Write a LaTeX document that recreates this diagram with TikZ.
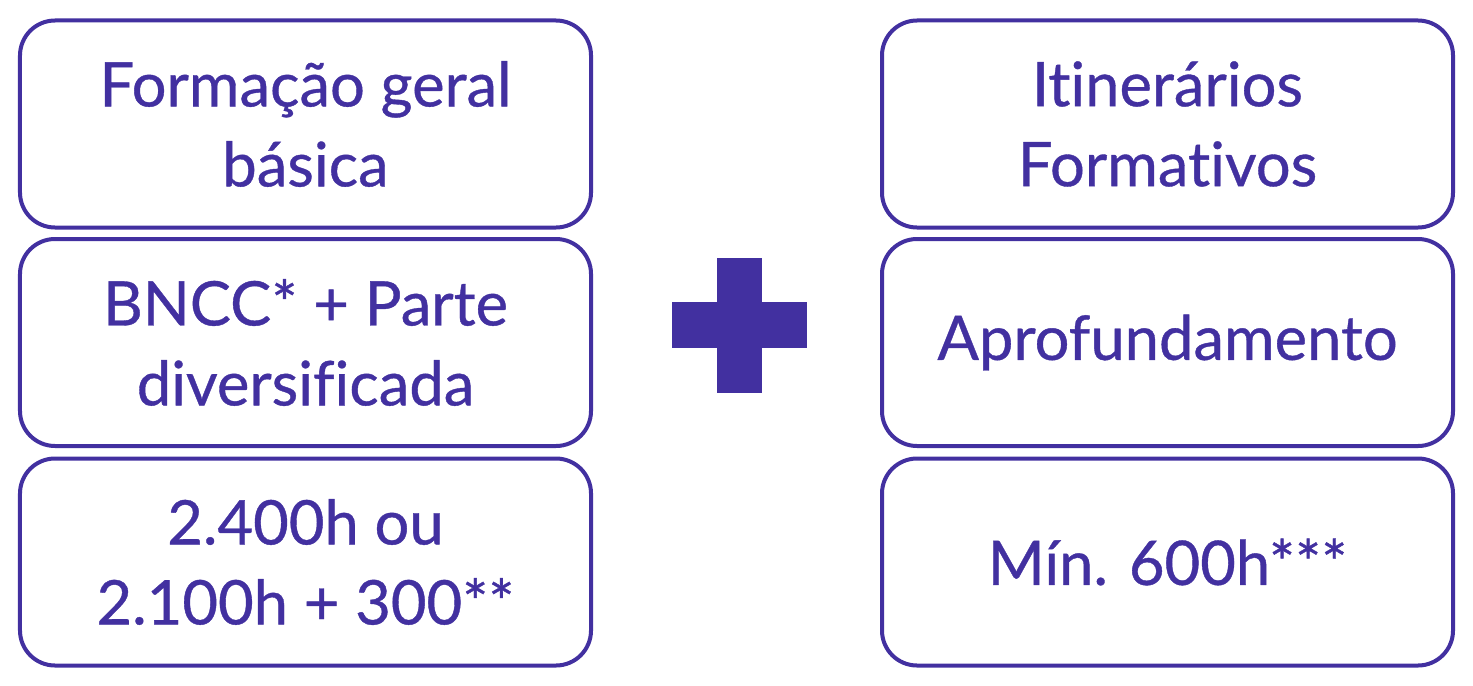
\documentclass[tikz,border=0pt]{standalone}
\usepackage{fontspec}
\setmainfont{Lato}[Ligatures=NoCommon,FakeBold=0.6]
\usepackage{tikz}
\usetikzlibrary{positioning}
\definecolor{bnccpurple}{RGB}{66,48,160}
\tikzset{
  blkbox/.style={draw=bnccpurple,rounded corners=7mm,line width=0.8mm,minimum width=114.2mm,minimum height=41.4mm,
    align=center,inner sep=0pt,text=bnccpurple,font=\fontsize{35}{45.5}\selectfont},
  plusbar/.style={fill=bnccpurple,inner sep=0pt}
}
\begin{document}
\begin{tikzpicture}[x=0.2mm,y=-0.2mm]
  \useasboundingbox (0,0) rectangle (1473,685);
  % left column
  \node[blkbox] (fgb) at (305.5,124) {Formação geral\\básica};
  \node[blkbox] (bncc) at (305.5,342.5) {BNCC* + Parte\\diversificada};
  \node[blkbox] (carga) at (305.5,562) {2.400h ou\\2.100h + 300**};
  % right column
  \node[blkbox] (itin) at (1167.5,124) {Itinerários\\Formativos};
  \node[blkbox] (aprof) at (1167.5,342.5) {Aprofundamento};
  \node[blkbox] (minh) at (1167.5,562) {Mín. 600h***};
  % plus sign
  \node[plusbar,minimum width=27mm,minimum height=9.2mm] (plush) at (739.5,325) {};
  \node[plusbar,minimum width=9mm,minimum height=27mm] (plusv) at (739.5,325) {};
\end{tikzpicture}
\end{document}
